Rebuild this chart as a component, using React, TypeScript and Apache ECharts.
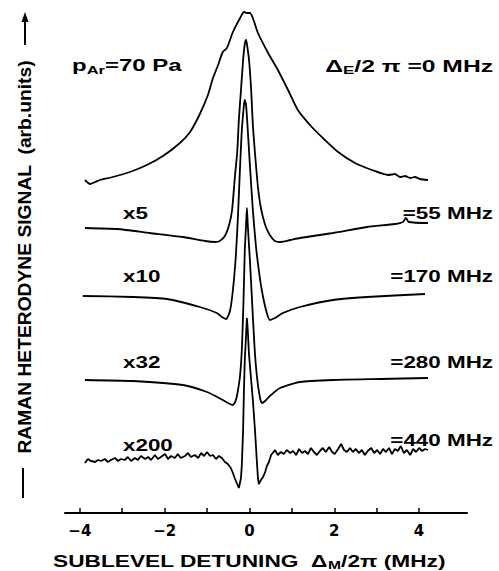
import React, { useEffect, useRef } from "react";
import * as echarts from "echarts";

// Sublevel detuning (MHz) vs Raman heterodyne signal (arb. units, traces offset vertically)
const trace0MHz: [number, number][] = [
  [-3.88, 33.3], [-3.76, 32.9], [-3.64, 33.1], [-3.53, 33.3], [-3.22, 33.6], [-2.82, 34.1], [-2.42, 34.8],
  [-2.04, 35.7], [-1.64, 37.0], [-1.40, 38.1], [-1.17, 39.9], [-0.98, 41.8], [-0.86, 43.5], [-0.74, 44.8],
  [-0.63, 46.1], [-0.55, 46.4], [-0.51, 46.7], [-0.39, 48.1], [-0.22, 49.5], [-0.13, 50.1], [-0.06, 50.0],
  [0.01, 50.0], [0.08, 49.5], [0.20, 48.0], [0.44, 46.0], [0.67, 44.3], [0.91, 42.3], [1.14, 40.3],
  [1.47, 38.6], [1.78, 37.3], [2.09, 36.1], [2.49, 35.0], [2.89, 34.3], [3.27, 33.8], [3.43, 33.9],
  [3.55, 33.6], [3.67, 33.7], [3.79, 33.5], [3.90, 33.6], [4.02, 33.4], [4.21, 33.3],
];

const trace55MHz: [number, number][] = [
  [-3.88, 28.5], [-3.12, 28.4], [-2.35, 28.0], [-1.57, 27.6], [-1.05, 27.2], [-0.81, 27.1], [-0.70, 27.2],
  [-0.58, 27.7], [-0.48, 28.8], [-0.41, 30.3], [-0.34, 33.8], [-0.29, 36.0], [-0.25, 39.3], [-0.20, 42.3],
  [-0.15, 45.3], [-0.11, 46.9], [-0.08, 47.3], [-0.06, 46.9], [-0.01, 45.3], [0.04, 42.3], [0.08, 38.8],
  [0.13, 36.0], [0.20, 32.6], [0.27, 30.5], [0.37, 28.8], [0.48, 27.8], [0.60, 27.2], [0.72, 27.1],
  [0.96, 27.3], [1.19, 27.5], [1.97, 28.0], [2.77, 28.6], [3.43, 28.9], [3.62, 29.1], [3.69, 29.5],
  [3.76, 29.1], [4.21, 29.0],
];

const trace170MHz: [number, number][] = [
  [-3.93, 21.7], [-2.75, 21.6], [-1.94, 21.4], [-1.17, 20.6], [-0.77, 20.0], [-0.65, 19.6], [-0.55, 19.4],
  [-0.46, 20.2], [-0.39, 22.3], [-0.32, 25.8], [-0.27, 29.8], [-0.22, 34.8], [-0.18, 38.3], [-0.13, 40.8],
  [-0.11, 41.3], [-0.08, 40.8], [-0.04, 38.3], [0.01, 34.8], [0.08, 30.3], [0.15, 26.8], [0.22, 24.3],
  [0.29, 22.3], [0.39, 20.3], [0.48, 19.3], [0.60, 19.5], [0.79, 20.0], [1.19, 20.6], [1.97, 21.3],
  [2.77, 21.6], [4.14, 21.9],
];

const trace280MHz: [number, number][] = [
  [-3.88, 13.3], [-2.75, 13.2], [-1.57, 12.8], [-1.00, 12.1], [-0.63, 11.3], [-0.46, 10.9], [-0.39, 10.8],
  [-0.32, 11.3], [-0.27, 12.3], [-0.22, 13.8], [-0.18, 16.3], [-0.14, 21.3], [-0.11, 26.3], [-0.08, 28.8],
  [-0.06, 30.5], [-0.04, 28.8], [0.01, 25.3], [0.06, 21.3], [0.11, 17.3], [0.15, 14.8], [0.20, 12.8],
  [0.25, 11.5], [0.29, 11.0], [0.37, 11.2], [0.48, 11.7], [0.72, 12.5], [1.19, 13.1], [1.97, 13.3],
  [3.08, 13.4], [4.21, 13.5],
];

const trace440MHz: [number, number][] = [
  [-3.88, 5.0], [-3.81, 5.4], [-3.74, 5.2], [-3.64, 5.1], [-3.57, 5.3], [-3.50, 5.2], [-3.41, 5.4],
  [-3.34, 5.1], [-3.27, 5.3], [-3.17, 5.5], [-3.10, 5.2], [-3.03, 5.4], [-2.94, 5.3], [-2.87, 5.6],
  [-2.79, 5.2], [-2.70, 5.5], [-2.63, 5.3], [-2.56, 5.7], [-2.46, 5.4], [-2.39, 5.6], [-2.32, 5.3],
  [-2.23, 5.8], [-2.16, 5.4], [-2.09, 5.6], [-1.99, 5.9], [-1.92, 5.4], [-1.85, 5.7], [-1.76, 5.5],
  [-1.69, 5.9], [-1.62, 5.5], [-1.52, 5.7], [-1.45, 6.0], [-1.38, 5.6], [-1.29, 5.8], [-1.21, 5.5],
  [-1.14, 6.0], [-1.07, 5.7], [-1.00, 6.1], [-0.93, 5.7], [-0.86, 5.8], [-0.79, 5.4], [-0.72, 5.7],
  [-0.65, 5.5], [-0.58, 5.1], [-0.51, 4.9], [-0.44, 4.5], [-0.39, 4.0], [-0.34, 3.4], [-0.29, 2.9],
  [-0.25, 2.5], [-0.20, 3.5], [-0.18, 4.8], [-0.15, 8.3], [-0.13, 12.3], [-0.11, 15.3], [-0.08, 17.8],
  [-0.06, 19.5], [-0.04, 18.3], [-0.01, 15.8], [0.04, 13.3], [0.08, 11.3], [0.13, 8.3], [0.18, 4.8],
  [0.20, 3.5], [0.22, 2.9], [0.27, 3.3], [0.32, 3.6], [0.37, 4.1], [0.41, 4.7], [0.46, 5.1],
  [0.51, 5.8], [0.55, 6.0], [0.60, 6.3], [0.67, 5.8], [0.74, 6.1], [0.81, 5.9], [0.88, 6.3],
  [0.96, 6.0], [1.03, 6.2], [1.10, 5.8], [1.17, 6.4], [1.24, 6.0], [1.31, 6.2], [1.38, 5.9],
  [1.45, 6.5], [1.52, 6.1], [1.59, 5.8], [1.66, 6.2], [1.73, 6.5], [1.80, 6.1], [1.88, 6.6],
  [1.95, 6.1], [2.01, 5.9], [2.09, 6.4], [2.16, 6.9], [2.23, 6.3], [2.30, 6.1], [2.37, 6.5],
  [2.44, 6.1], [2.51, 6.4], [2.58, 6.0], [2.65, 6.3], [2.72, 5.8], [2.79, 6.2], [2.87, 6.5],
  [2.94, 6.0], [3.01, 6.3], [3.08, 5.9], [3.15, 6.4], [3.22, 6.1], [3.29, 6.5], [3.36, 5.9],
  [3.43, 6.4], [3.50, 6.2], [3.57, 6.7], [3.64, 6.0], [3.71, 6.3], [3.79, 5.8], [3.86, 6.4],
  [3.93, 6.1], [4.00, 6.5], [4.07, 6.2], [4.14, 6.4], [4.21, 6.3],
];

const traces = [trace0MHz, trace55MHz, trace170MHz, trace280MHz, trace440MHz];
const traceSmooth = [0.2, 0.2, 0.2, 0.2, 0];
const xTickValues = [-4, -3, -2, -1, 0, 1, 2, 3, 4];
const xLabelValues = [-4, -2, 0, 2, 4];
const gainLabels = ["x5", "x10", "x32", "x200"];
const offsetLabels = ["=55 MHz", "=170 MHz", "=280 MHz", "=440 MHz"];

const FONT = '"Liberation Sans", Arial, Helvetica, sans-serif';

export default function App() {
  const ref = useRef<HTMLDivElement>(null);

  useEffect(() => {
    if (!ref.current) return;
    const chart = echarts.init(ref.current, null, { renderer: "svg" });

    const main = (size = 16) => ({
      fontSize: size, fontWeight: "bold", fontFamily: FONT, fill: "#000",
      lineHeight: 20, verticalAlign: "middle",
    });
    const sub = () => ({
      fontSize: 11, fontWeight: "bold", fontFamily: FONT, fill: "#000",
      lineHeight: 11, verticalAlign: "bottom",
    });
    const txt = (text: string, x: number, y: number, align: string, scaleX: number, rich?: any) => ({
      type: "text",
      x, y, scaleX, scaleY: 1,
      silent: true,
      style: {
        text, align, verticalAlign: "middle",
        fontSize: 16, fontWeight: "bold", fontFamily: FONT, fill: "#000",
        rich,
      },
    });

    const gainY = [213, 276, 362, 445];
    const offY = [213, 276, 362, 440];

    const graphics: any[] = [
      txt("{m|p}{s|Ar}{m|=70 Pa}", 72, 66, "left", 1.5, { m: main(), s: sub() }),
      txt("{m|Δ}{s|E}{m|/2 π =0 MHz}", 493, 66, "right", 1.54, { m: main(), s: sub() }),
      ...gainLabels.map((t, i) => txt(t, 123, gainY[i], "left", 1.4)),
      ...offsetLabels.map((t, i) => txt(t, 493, offY[i], "right", 1.4)),
      txt("{m|SUBLEVEL DETUNING  Δ}{s|M}{m|/2π (MHz)}", 53, 561, "left", 1.42, { m: main(), s: sub() }),
      {
        type: "text",
        x: 25, y: 257, rotation: Math.PI / 2, scaleX: 1.07, scaleY: 1,
        silent: true,
        style: {
          text: "RAMAN HETERODYNE SIGNAL  (arb.units)",
          align: "center", verticalAlign: "middle",
          fontSize: 18, fontWeight: "bold", fontFamily: FONT, fill: "#000",
        },
      },
      { type: "line", shape: { x1: 23, y1: 468, x2: 23, y2: 498 }, style: { stroke: "#000", lineWidth: 2 } },
      { type: "line", shape: { x1: 25, y1: 45, x2: 25, y2: 20 }, style: { stroke: "#000", lineWidth: 2 } },
      { type: "polygon", shape: { points: [[25, 12], [21.5, 22], [28.5, 22]] }, style: { fill: "#000" } },
    ];

    chart.setOption({
      animation: false,
      backgroundColor: "#fff",
      grid: { left: 65, right: 32, top: 0, bottom: 58 },
      xAxis: {
        type: "value",
        min: -4.35,
        max: 5.13,
        axisLine: { show: true, lineStyle: { color: "#000", width: 2 } },
        axisTick: { show: true, inside: true, length: 5, customValues: xTickValues, lineStyle: { color: "#000", width: 1.5 } },
        axisLabel: {
          customValues: xLabelValues,
          margin: 10,
          color: "#000",
          fontSize: 15,
          fontWeight: "bold",
          fontFamily: '"DejaVu Sans", sans-serif',
          formatter: (v: number) => (v < 0 ? "\u2212" + Math.abs(v) : String(v)),
        },
        splitLine: { show: false },
      },
      yAxis: {
        type: "value",
        min: 0,
        max: 51.3,
        show: false,
        splitLine: { show: false },
      },
      series: traces.map((d, i) => ({
        type: "line",
        data: d,
        showSymbol: false,
        symbol: "none",
        smooth: traceSmooth[i],
        lineStyle: { color: "#000", width: 1.8 },
        itemStyle: { color: "#000" },
        z: 2,
      })),
      graphic: graphics,
    });

    return () => chart.dispose();
  }, []);

  return (
    <div
      ref={ref}
      style={{ position: "absolute", left: 0, top: 0, width: 499, height: 571, background: "#fff" }}
    />
  );
}
